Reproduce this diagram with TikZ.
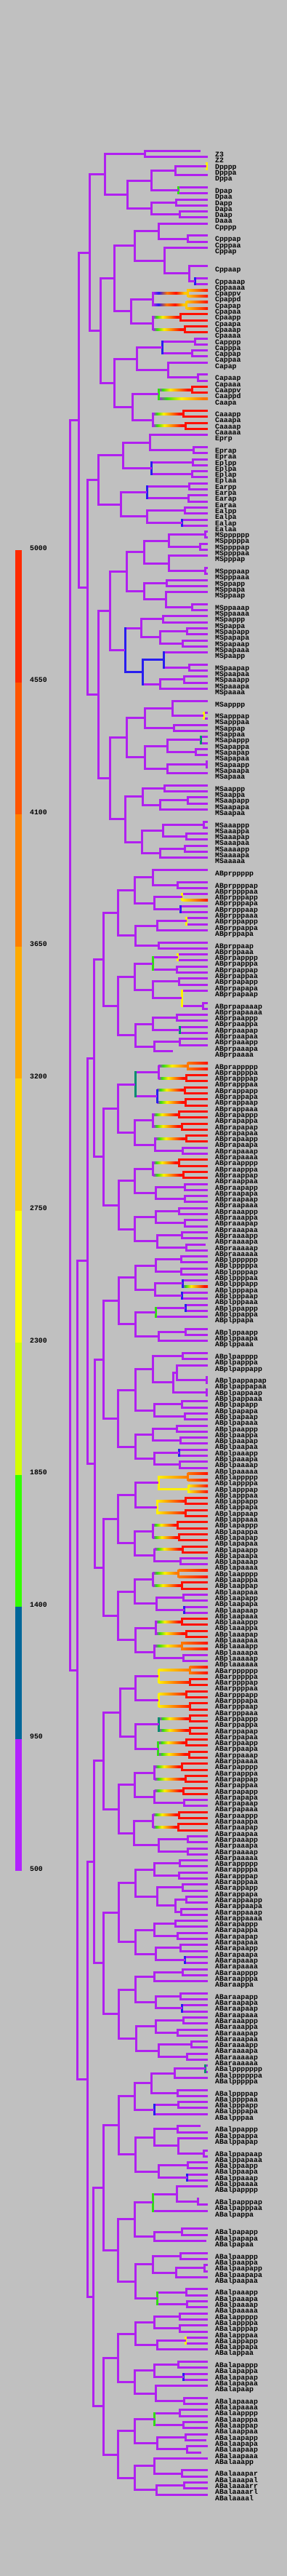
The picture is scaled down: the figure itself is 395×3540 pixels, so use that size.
\documentclass[tikz,border=0pt]{standalone}
\usepackage{fontspec}
\setmonofont{Liberation Mono}
\definecolor{bg}{RGB}{192,192,192}
\definecolor{purp}{RGB}{176,32,240}
\definecolor{tred}{RGB}{255,16,0}
\definecolor{torg}{RGB}{255,120,0}
\definecolor{tamb}{RGB}{255,200,0}
\definecolor{tyel}{RGB}{255,240,0}
\definecolor{tgrn}{RGB}{50,220,20}
\definecolor{tblu}{RGB}{40,30,240}
\definecolor{ttea}{RGB}{0,140,110}
\definecolor{key1}{RGB}{255,42,0}
\definecolor{key2}{RGB}{255,85,0}
\definecolor{key3}{RGB}{255,128,0}
\definecolor{key4}{RGB}{255,170,0}
\definecolor{key5}{RGB}{255,212,0}
\definecolor{key6}{RGB}{255,255,0}
\definecolor{key7}{RGB}{212,255,0}
\definecolor{key8}{RGB}{51,255,0}
\definecolor{key9}{RGB}{0,102,153}
\definecolor{key10}{RGB}{178,34,255}
\pgfdeclarehorizontalshading{heattred}{100bp}{color(0bp)=(purp); color(25bp)=(purp); color(31bp)=(tgrn); color(42bp)=(tyel); color(56bp)=(torg); color(68bp)=(tred); color(100bp)=(tred)}
\pgfdeclarehorizontalshading{heattorg}{100bp}{color(0bp)=(purp); color(25bp)=(purp); color(33bp)=(tgrn); color(48bp)=(tyel); color(70bp)=(torg); color(100bp)=(torg)}
\pgfdeclarehorizontalshading{heattamb}{100bp}{color(0bp)=(purp); color(25bp)=(purp); color(33bp)=(tblu); color(45bp)=(torg); color(58bp)=(tred); color(70bp)=(tamb); color(100bp)=(tamb)}
\tikzset{
  hline/.style={line width=3pt},
  vline/.style={line width=3pt,line cap=rect},
  lbl/.style={font=\ttfamily\bfseries\fontsize{9.8}{10}\selectfont,anchor=base west,inner sep=0pt,text=black}
}
\newcount\rowidx
\def\ytop{207.7}\def\pitch{8.3}
\def\cname{}\def\kids{}\def\ya{}\def\yb{}
\def\nmred{tred}\def\nmorg{torg}\def\nmamb{tamb}\def\nmyel{tyel}
\newcommand\addkid[3]{%
  \ifx\ya\empty\edef\ya{#2}\fi
  \edef\yb{#2}%
  \ifx\kids\empty\edef\kids{#1/#2/#3}\else\edef\kids{\kids,#1/#2/#3}\fi}
\newcommand\warmlink[3]{%
  \def\wl{0}%
  \ifx\lpc\nmyel\def\wl{1}\fi
  \ifx\lpc\nmorg\def\wl{1}\fi
  \ifx\lpc\nmamb\def\wl{1}\fi
  \ifnum\wl=1
    \shade[left color=\lpc,right color=\lkc] (#1,#3-1.5) rectangle (#2,#3+1.5);
  \else
    \shade[shading=heat\lkc] (#1,#3-1.5) rectangle (#2,#3+1.5);
  \fi}
\newcommand\link[5]{%
  \edef\lpc{#4}\edef\lkc{#5}%
  \def\lw{0}%
  \ifx\lkc\nmred\def\lw{1}\fi
  \ifx\lkc\nmorg\def\lw{1}\fi
  \ifx\lkc\nmamb\def\lw{1}\fi
  \ifx\lpc\lkc\def\lw{2}\fi
  \ifcase\lw
    \draw[hline,draw=purp] (#1,#3) -- (#2,#3);
  \or
    \warmlink{#1}{#2}{#3}%
  \else
    \draw[hline,draw=\lkc] (#1,#3) -- (#2,#3);
  \fi}
\newcommand\ndcore[5]{%
  \begingroup
  \edef\crd{#4}\edef\cname{#3}%
  \def\kids{}\def\ya{}\def\yb{}%
  #5%
  \pgfmathsetmacro\ym{(\ya+\yb)/2}%
  \foreach \kx/\ky/\kc in \kids {\link{#2}{\kx}{\ky}{#1}{\kc}}%
  \draw[vline,draw=#1] (#2,\ya) -- (#2,\yb);
  \coordinate (\crd) at (#2,\ym);
  \edef\ndnext{\noexpand\endgroup\noexpand\addkid{#2}{\ym}{#1}}%
  \ndnext}
\newcommand\ndc[4]{\ndcore{#1}{#2}{\cname#3}{n\cname#3}{#4}}
\newcommand\nd[3]{\ndc{purp}{#1}{#2}{#3}}
\newcommand\pnd[3]{\ndcore{purp}{#1}{\cname}{#2}{#3}}
\newcommand\lfcore[3]{%
  \pgfmathsetmacro\ly{\ytop+\the\rowidx*\pitch}%
  \node[lbl] (\cname#3) at (296,\ly+8) {\cname#3};
  \addkid{#2}{\ly}{#1}%
  \global\advance\rowidx by 1\relax}
\newcommand\lf[1]{\lfcore{purp}{286}{#1}}
\newcommand\lfc[2]{\lfcore{#1}{286}{#2}}
\newcommand\lfs[2]{\lfcore{purp}{#1}{#2}}
\newcommand\bl{\global\advance\rowidx by 1\relax}
\newcommand\pa[2]{\nd{#1}{#2}{\lf{p}\lf{a}}}
\newcommand\cpa[3]{\ndc{#1}{#2}{#3}{\lf{p}\lf{a}}}
\newcommand\hpa[3]{\ndc{#1}{#2}{#3}{\lfc{tred}{p}\lfc{tred}{a}}}
\newcommand\rpa[2]{\hpa{tred}{#1}{#2}}
\begin{document}
\begin{tikzpicture}[x=1pt,y=-1pt]
\fill[bg] (0,0) rectangle (395,3540);
\useasboundingbox (0,0) rectangle (395,3540);

\foreach \c [count=\i from 0] in {key1,key2,key3,key4,key5,key6,key7,key8,key9,key10}
  \fill[\c] (21,756+181.5*\i) rectangle (30,937.5+181.5*\i);
\foreach \v [count=\i from 0] in {5000,4550,4100,3650,3200,2750,2300,1850,1400,950,500}
  \node[lbl] (k\v) at (41,756+181.5*\i) {\v};

\pnd{96}{P0}{%
 \pnd{108.7}{P1}{%
  \pnd{123.5}{P2}{%
   \pnd{144.7}{P3}{%
    \pnd{199}{P4}{\lfs{276}{Z3}\lf{Z2}}%
    \nd{175.7}{D}{%
     \nd{208.7}{p}{%
      \nd{241.3}{p}{\cpa{tyel}{284}{p}\lf{a}}%
      \bl
      \cpa{tgrn}{245.7}{a}}%
     \nd{208.7}{a}{\pa{242.3}{p}\pa{247.7}{a}}}}%
   \nd{138.7}{C}{%
    \nd{157.5}{p}{%
     \nd{185}{p}{%
      \nd{218.7}{p}{\lf{p}\bl\pa{258.7}{a}}%
      \nd{226.7}{a}{\lf{p}\bl\bl\nd{260.7}{a}{\lf{p}\bl\cpa{tblu}{268.3}{a}}}}%
     \nd{180.7}{a}{%
      \nd{210.7}{p}{%
       \ndc{tamb}{258.3}{p}{\lfc{tred}{v}\lfc{tred}{d}}%
       \hpa{tamb}{256.7}{a}}%
      \nd{210.7}{a}{\rpa{248.3}{p}\rpa{254}{a}}}}%
    \nd{157.5}{a}{%
     \nd{188.7}{p}{%
      \ndc{tblu}{223.3}{p}{\pa{268}{p}\pa{264.7}{a}}%
      \nd{231.3}{a}{\lf{p}\bl\pa{272.7}{a}}}%
     \nd{182.7}{a}{%
      \ndc{tgrn}{218.3}{p}{\ndc{tred}{264.7}{p}{\lfc{tred}{v}\lfc{tred}{d}}\lfc{torg}{a}}%
      \bl
      \nd{210.7}{a}{\rpa{252.3}{p}\rpa{255.7}{a}}}}}}%
  \pnd{120.7}{EMS}{%
   \nd{135.3}{E}{%
    \nd{169.3}{p}{%
     \nd{206.7}{r}{\lf{p}\bl\pa{266.7}{a}}%
     \ndc{tblu}{208.7}{l}{\pa{265.3}{p}\pa{264.3}{a}}}%
    \nd{166}{a}{%
     \ndc{tblu}{202}{r}{\pa{260.7}{p}\pa{259.3}{a}}%
     \nd{202}{l}{\pa{254.7}{p}\cpa{tblu}{250.7}{a}}}}%
   \nd{135.3}{MS}{%
    \nd{151.7}{p}{%
     \nd{174.3}{p}{%
      \nd{198.7}{p}{%
       \nd{232.7}{p}{\pa{282}{p}\pa{275}{a}}%
       \nd{232.7}{a}{\lf{p}\bl\pa{282.7}{a}}}%
      \nd{198.7}{a}{%
       \pa{229.3}{p}%
       \nd{228.7}{a}{\lf{p}\bl\pa{264.3}{a}}}}%
     \ndc{tblu}{172}{a}{%
      \nd{194.7}{p}{%
       \pa{224.7}{p}%
       \nd{220}{a}{\pa{257.7}{p}\pa{251.7}{a}}}%
      \ndc{tblu}{196}{a}{%
       \ndc{tblu}{225.7}{p}{\lf{p}\bl\pa{260}{a}}%
       \nd{220}{a}{\pa{253.7}{p}\lf{a}}}}}%
    \bl
    \nd{151.7}{a}{%
     \nd{174.3}{p}{%
      \nd{199.3}{p}{%
       \nd{237.3}{p}{\lf{p}\bl\cpa{tyel}{280}{a}}%
       \pa{239.3}{a}}%
      \nd{199.3}{a}{%
       \nd{230.7}{p}{\cpa{ttea}{276}{p}\pa{269.3}{a}}%
       \nd{230.7}{a}{\pa{284.3}{p}\lf{a}}}}%
     \bl
     \nd{172.7}{a}{%
      \nd{196}{p}{%
       \pa{226.7}{p}%
       \nd{220.7}{a}{\pa{258.7}{p}\lf{a}}}%
      \bl
      \nd{195.3}{a}{%
       \nd{224}{p}{\pa{280}{p}\pa{256}{a}}%
       \nd{220}{a}{\pa{254.7}{p}\lf{a}}}}}}}}%
 \bl
 \nd{106.7}{AB}{%
  \nd{120}{p}{%
   \nd{129.3}{r}{%
    \nd{142.7}{p}{%
     \nd{162.7}{p}{%
      \nd{185}{p}{%
       \nd{210.7}{p}{\lf{p}\bl\pa{244.7}{a}}%
       \nd{212}{a}{\ndc{tyel}{250.7}{p}{\lf{p}\lfc{tred}{a}}\cpa{tblu}{248}{a}}}%
      \nd{186.7}{a}{%
       \nd{216}{p}{\cpa{tyel}{256.7}{p}\lf{a}}%
       \bl
       \pa{218.7}{a}}}%
     \nd{162.7}{a}{%
      \nd{185}{p}{%
       \ndc{tgrn}{210}{p}{\cpa{tyel}{244.7}{p}\pa{243.3}{a}}%
       \nd{210.7}{a}{\pa{246.7}{p}\ndc{tyel}{250}{a}{\lf{p}\bl\pa{279}{a}}}}%
      \nd{186}{a}{%
       \nd{210.7}{p}{\pa{243.3}{p}\cpa{ttea}{247.3}{a}}%
       \nd{212}{a}{\pa{247.3}{p}\lfs{237.7}{a}}}}}%
    \bl
    \nd{142.7}{a}{%
     \nd{162.7}{p}{%
      \ndc{ttea}{186}{p}{%
       \nd{218}{p}{\hpa{torg}{258.3}{p}\rpa{256.7}{a}}%
       \ndc{tblu}{216}{a}{\rpa{254.7}{p}\rpa{255.7}{a}}}%
      \nd{185}{a}{%
       \nd{210.7}{p}{\rpa{246.7}{p}\rpa{250}{a}}%
       \nd{213.3}{a}{\rpa{256.7}{p}\pa{251}{a}}}}%
     \nd{163.3}{a}{%
      \nd{185}{p}{%
       \nd{210.7}{p}{\rpa{246}{p}\rpa{252.7}{a}}%
       \nd{214.3}{a}{\pa{254}{p}\pa{254}{a}}}%
      \nd{185.7}{a}{%
       \nd{214}{p}{\pa{246.7}{p}\pa{254}{a}}%
       \nd{216}{a}{\pa{250}{p}\nd{256}{a}{\lfs{282.7}{p}\lf{a}}}}}}}%
   \nd{130}{l}{%
    \nd{142.7}{p}{%
     \nd{163.3}{p}{%
      \nd{186}{p}{%
       \nd{214.3}{p}{\pa{249.3}{p}\pa{249.3}{a}}%
       \nd{213.3}{a}{\ndc{tblu}{251}{p}{\lf{p}\lfc{tred}{a}}\cpa{tblu}{250}{a}}}%
      \nd{186}{a}{%
       \ndc{tgrn}{214}{p}{\cpa{tblu}{255.3}{p}\lf{a}}%
       \bl
       \nd{218.3}{a}{\pa{255.3}{p}\lf{a}}}}%
     \bl
     \nd{162.7}{a}{%
      \nd{186}{p}{%
       \nd{210.7}{p}{\pa{251.7}{p}\nd{238.7}{a}{\nd{243.3}{p}{\lf{p}\bl\pa{284}{a}}\pa{284}{a}}}%
       \nd{212.7}{a}{\pa{250.7}{p}\pa{254.7}{a}}}%
      \nd{186}{a}{%
       \nd{210.7}{p}{\pa{243.3}{p}\pa{248.7}{a}}%
       \nd{212.7}{a}{\cpa{tblu}{246.7}{p}\pa{247.7}{a}}}}}%
    \nd{142.7}{a}{%
     \nd{162.7}{p}{%
      \nd{186}{p}{%
       \ndc{tyel}{218.3}{p}{\hpa{torg}{258.3}{p}\hpa{tyel}{259}{a}}%
       \ndc{tyel}{216}{a}{\rpa{255.7}{p}\rpa{255.7}{a}}}%
      \nd{185}{a}{%
       \nd{210}{p}{\rpa{244.7}{p}\rpa{246.7}{a}}%
       \nd{212.7}{a}{\rpa{251.7}{p}\pa{248.7}{a}}}}%
     \nd{162.7}{a}{%
      \nd{185}{p}{%
       \nd{210}{p}{\hpa{torg}{245.7}{p}\rpa{250.7}{a}}%
       \nd{215}{a}{\pa{252.7}{p}\cpa{tblu}{253.7}{a}}}%
      \nd{186}{a}{%
       \nd{214}{p}{\rpa{250.7}{p}\rpa{256.7}{a}}%
       \nd{212.3}{a}{\hpa{torg}{250.7}{p}\pa{252.7}{a}}}}}}}%
  \nd{120}{a}{%
   \nd{129.3}{r}{%
    \nd{142.7}{p}{%
     \nd{165}{p}{%
      \nd{186.7}{p}{%
       \ndc{tyel}{218.3}{p}{\hpa{torg}{261}{p}\rpa{261.7}{a}}%
       \ndc{tyel}{218.3}{a}{\rpa{256.7}{p}\rpa{261.7}{a}}}%
      \nd{186}{a}{%
       \ndc{ttea}{218.7}{p}{\rpa{261.7}{p}\rpa{261.7}{a}}%
       \ndc{tgrn}{217.7}{a}{\rpa{256.7}{p}\rpa{260}{a}}}}%
     \nd{163.3}{a}{%
      \nd{185}{p}{%
       \nd{212.7}{p}{\rpa{250.7}{p}\rpa{255.7}{a}}%
       \nd{212.7}{a}{\rpa{252.3}{p}\pa{253.7}{a}}}%
      \nd{184}{a}{%
       \nd{210.7}{p}{\rpa{246.7}{p}\rpa{245.7}{a}}%
       \nd{218.7}{a}{\pa{258.7}{p}\pa{258.7}{a}}}}}%
    \nd{142.7}{a}{%
     \nd{163.3}{p}{%
      \nd{186}{p}{%
       \nd{212.7}{p}{\pa{247.7}{p}\pa{246.7}{a}}%
       \nd{216}{a}{\pa{251.7}{p}\nd{241.7}{a}{\pa{256.7}{p}\pa{249.7}{a}}}}%
      \nd{186}{a}{%
       \nd{212}{p}{\pa{241.7}{p}\pa{244.7}{a}}%
       \nd{214}{a}{\pa{248.7}{p}\cpa{tblu}{254.7}{a}}}}%
     \nd{163.3}{a}{%
      \nd{186}{p}{%
       \nd{212}{p}{\pa{251.7}{p}\lf{a}}%
       \bl
       \nd{214}{a}{\pa{248.7}{p}\cpa{tblu}{250.7}{a}}}%
      \nd{187.7}{a}{%
       \nd{214}{p}{\pa{252.7}{p}\pa{244.7}{a}}%
       \nd{218.7}{a}{\pa{263.3}{p}\pa{257.7}{a}}}}}}%
   \nd{128.7}{l}{%
    \nd{142.7}{p}{%
     \nd{163.3}{p}{%
      \nd{185}{p}{%
       \nd{208.7}{p}{\nd{240}{p}{\cpa{ttea}{282.7}{p}\lf{a}}\bl\pa{244.7}{a}}%
       \ndc{tblu}{212}{a}{\pa{245.7}{p}\lf{a}}}%
      \bl
      \nd{186}{a}{%
       \nd{212}{p}{\nd{244.7}{p}{\lfs{276}{p}\lf{a}}\nd{245.7}{a}{\lf{p}\bl\pa{280}{a}}}%
       \nd{218.7}{a}{\pa{258.7}{p}\cpa{tblu}{257.7}{a}}}}%
     \nd{162.7}{a}{%
      \nd{185}{p}{%
       \ndc{tgrn}{210}{p}{\nd{243.7}{p}{\lf{p}\bl\nd{272}{a}{\lfs{274}{p}\lf{a}}}\lf{a}}%
       \bl\bl
       \nd{212.7}{a}{\pa{250}{p}\lfs{284}{a}}}%
      \bl
      \nd{186}{a}{%
       \nd{210}{p}{\pa{248.7}{p}\nd{242.7}{a}{\pa{281}{p}\lf{a}}}%
       \bl
       \ndc{tgrn}{216.7}{a}{\pa{256.7}{p}\pa{257.7}{a}}}}}%
    \nd{142.7}{a}{%
     \nd{162.7}{p}{%
      \nd{186}{p}{%
       \nd{212}{p}{\pa{247.7}{p}\pa{247.7}{a}}%
       \nd{216.7}{a}{\cpa{tyel}{255.7}{p}\lf{a}}}%
      \bl
      \nd{185.7}{a}{%
       \nd{212}{p}{\pa{245.7}{p}\cpa{tblu}{252.7}{a}}%
       \nd{214.3}{a}{\lf{p}\bl\pa{253.3}{a}}}}%
     \nd{162.7}{a}{%
      \nd{185.7}{p}{%
       \ndc{tgrn}{212.7}{p}{\pa{247.3}{p}\pa{252.7}{a}}%
       \nd{216.7}{a}{\nd{255.7}{p}{\lf{p}\lfs{284}{a}}\nd{257.7}{a}{\lf{p}\lfs{276.7}{a}}}}%
      \nd{185.7}{a}{%
       \nd{212.7}{p}{\lf{p}\bl\nd{250.7}{a}{\lf{r}\lf{l}}}%
       \nd{215.7}{a}{\nd{253.3}{r}{\lf{r}\lf{l}}\lf{l}}}}}}}}}
\end{tikzpicture}
\end{document}
